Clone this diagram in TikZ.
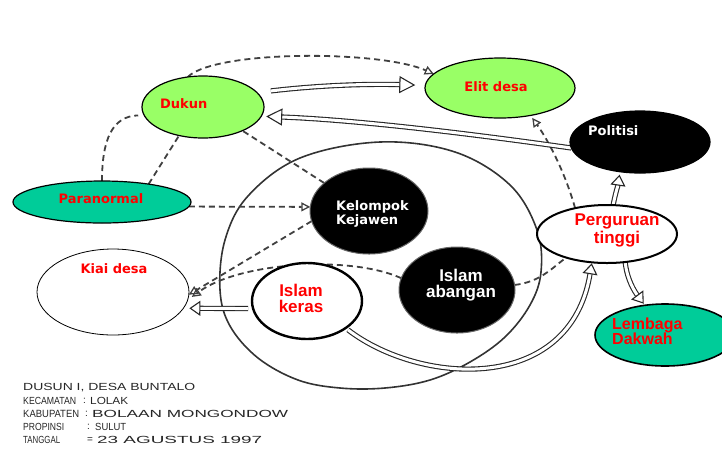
\documentclass[tikz,border=0pt]{standalone}
\usepackage{fontspec}
\usepackage{graphicx}
\usetikzlibrary{shapes.geometric,arrows.meta}
\newfontfamily\dvb{DejaVu Sans}
\newfontfamily\lib{Liberation Sans}
\definecolor{lgreen}{HTML}{99FF66}
\definecolor{tealx}{HTML}{00CC99}
\definecolor{redx}{HTML}{FF0000}
\pgfdeclarelayer{bg}
\pgfsetlayers{bg,main}
\newcommand{\hw}[2]{\resizebox{#1pt}{7.2pt}{\lib #2}}
\begin{document}
\begin{tikzpicture}[x=1pt,y=-1pt,
  ell/.style={ellipse, draw=black, line width=1.2pt, inner sep=0pt, outer sep=0pt},
  dsh/.style={draw=black!75, line width=1.8pt, dash pattern=on 6pt off 4pt},
  otip/.style={-{Triangle[open,length=9pt,width=9pt,line width=1.3pt]}},
  hollowL/.style={draw=black!85, line width=1.1pt, double=white, double distance=3pt, -{Triangle[open,length=16pt,width=17pt]}},
  hollowS/.style={draw=black!85, line width=1.1pt, double=white, double distance=3pt, -{Triangle[open,length=11pt,width=15pt]}},
  oval/.style={draw=black!80, line width=1.6pt},
  tdv/.style={font=\dvb\bfseries\fontsize{13}{14}\selectfont, inner sep=0pt},
  tlib/.style={font=\lib\bfseries\fontsize{17}{16}\selectfont, inner sep=0pt},
  hand/.style={anchor=west, inner sep=0pt, text=black!85}]
\useasboundingbox (0,0) rectangle (722,451);

% nodes
\node[ell, fill=lgreen, minimum width=122pt, minimum height=62pt] (dukun) at (203,107) {};
\node[ell, fill=lgreen, minimum width=150pt, minimum height=60pt] (elit) at (500,88) {};
\node[ell, fill=black, minimum width=140pt, minimum height=62pt] (politisi) at (640,142) {};
\node[ell, fill=tealx, minimum width=178pt, minimum height=42pt] (paranormal) at (102,202) {};
\node[ell, fill=white, line width=0.8pt, minimum width=152pt, minimum height=86pt] (kiai) at (113,292) {};
\node[ell, fill=black, draw=black!60, line width=1pt, minimum width=118pt, minimum height=86pt] (kejawen) at (369,211) {};
\node[ell, fill=black, draw=black!60, line width=1pt, minimum width=116pt, minimum height=86pt] (abangan) at (457,290) {};
\node[ell, fill=white, line width=2.4pt, minimum width=110pt, minimum height=76pt] (keras) at (307,301) {};
\node[ell, fill=white, line width=2pt, minimum width=140pt, minimum height=58pt] (perguruan) at (607,234) {};
\node[ell, fill=tealx, line width=1.6pt, minimum width=140pt, minimum height=62pt] (lembaga) at (665,335) {};

% texts
\node[tdv, text=redx, anchor=west] (dukunt) at (160,104) {Dukun};
\node[tdv, text=redx] (elitt) at (496,87) {Elit desa};
\node[tdv, text=white, anchor=west] (politisit) at (588,131) {Politisi};
\node[tdv, text=redx] (paranormalt) at (101,199) {Paranormal};
\node[tdv, text=redx] (kiait) at (114,269) {Kiai desa};
\node[tdv, text=white, anchor=west, align=left] (kejawent) at (336,214) {Kelompok\\Kejawen};
\node[tlib, text=white, align=center] (abangant) at (461,285.5) {Islam\\abangan};
\node[tlib, text=redx, align=center] (krast) at (301,298.5) {Islam\\keras};
\node[tlib, text=redx, align=center, font=\lib\bfseries\fontsize{17}{18}\selectfont] (pergurt) at (617,230) {Perguruan\\tinggi};
\node[tlib, text=redx, anchor=west, align=left, font=\lib\bfseries\fontsize{16}{15}\selectfont] (lembagat) at (612,331.5) {Lembaga\\Dakwah};

% handwritten legend
\node[hand] (b1) at (23,388) {\hw{172}{DUSUN I, DESA BUNTALO}};
\node[hand] (b2a) at (23,401) {\hw{53}{KECAMATAN}};
\node[hand] (b2b) at (83,401) {\lib :};
\node[hand] (b2c) at (90,401) {\hw{38}{LOLAK}};
\node[hand] (b3a) at (23,414) {\hw{56}{KABUPATEN}};
\node[hand] (b3b) at (85,414) {\lib :};
\node[hand] (b3c) at (92,414) {\hw{196}{BOLAAN MONGONDOW}};
\node[hand] (b4a) at (23,427) {\hw{41}{PROPINSI}};
\node[hand] (b4b) at (87,427) {\lib :};
\node[hand] (b4c) at (95,427) {\hw{31}{SULUT}};
\node[hand] (b5a) at (23,440) {\hw{37}{TANGGAL}};
\node[hand] (b5b) at (87,440) {\lib =};
\node[hand] (b5c) at (97,440) {\hw{165}{23 AGUSTUS 1997}};

\begin{pgfonlayer}{bg}
% big hand-drawn loop
\draw[oval] plot[smooth cycle, tension=0.6] coordinates {(380,142) (455,152) (510,185) (537,230) (541,272) (530,305) (505,337) (470,362) (430,380) (385,388) (340,388) (298,380) (258,358) (230,326) (220,290) (225,240) (248,196) (300,158)};

% dashed relations
\draw[dsh, otip] (dukun.117) .. controls (215,50) and (380,50) .. (elit.168);
\draw[dsh, shorten >=6pt] (paranormal.north) .. controls (102,140) and (112,116) .. (dukun.188);
\draw[dsh] (paranormal.21) -- (dukun.230);
\draw[dsh] (kejawen.148) -- (dukun.-31);
\draw[dsh, otip] (paranormal.-3) -- (kejawen.176);
\draw[dsh, otip] (kejawen.190) -- (kiai.-2);
\draw[dsh, otip, shorten >=5pt] (abangan.168) .. controls (350,255) and (240,262) .. (kiai.-6);
\draw[dsh] (abangan.5) .. controls (540,282) and (552,268) .. (perguruan.210);
\draw[dsh, otip, shorten >=3pt] (perguruan.141) .. controls (565,172) and (548,140) .. (elit.-42);

% hollow arrows
\draw[hollowL, shorten <=14pt, shorten >=10pt] (dukun.15) .. controls (330,84) and (380,84) .. (elit.178);
\draw[hollowL, shorten >=5pt] (politisi.185) .. controls (480,135) and (360,120) .. (dukun.-9);
\draw[hollowS, shorten <=5pt, shorten >=6pt] (keras.188) -- (kiai.-13);
\draw[hollowS, shorten >=3pt] (perguruan.78) .. controls (615,195) and (618,185) .. (politisi.236);
\draw[hollowS, shorten >=2pt] (perguruan.-57) .. controls (627,280) and (635,292) .. (lembaga.124);
\draw[hollowS, shorten <=3pt, shorten >=1pt] (keras.-35) .. controls (420,385) and (570,395) .. (perguruan.242);
\end{pgfonlayer}
\end{tikzpicture}
\end{document}
